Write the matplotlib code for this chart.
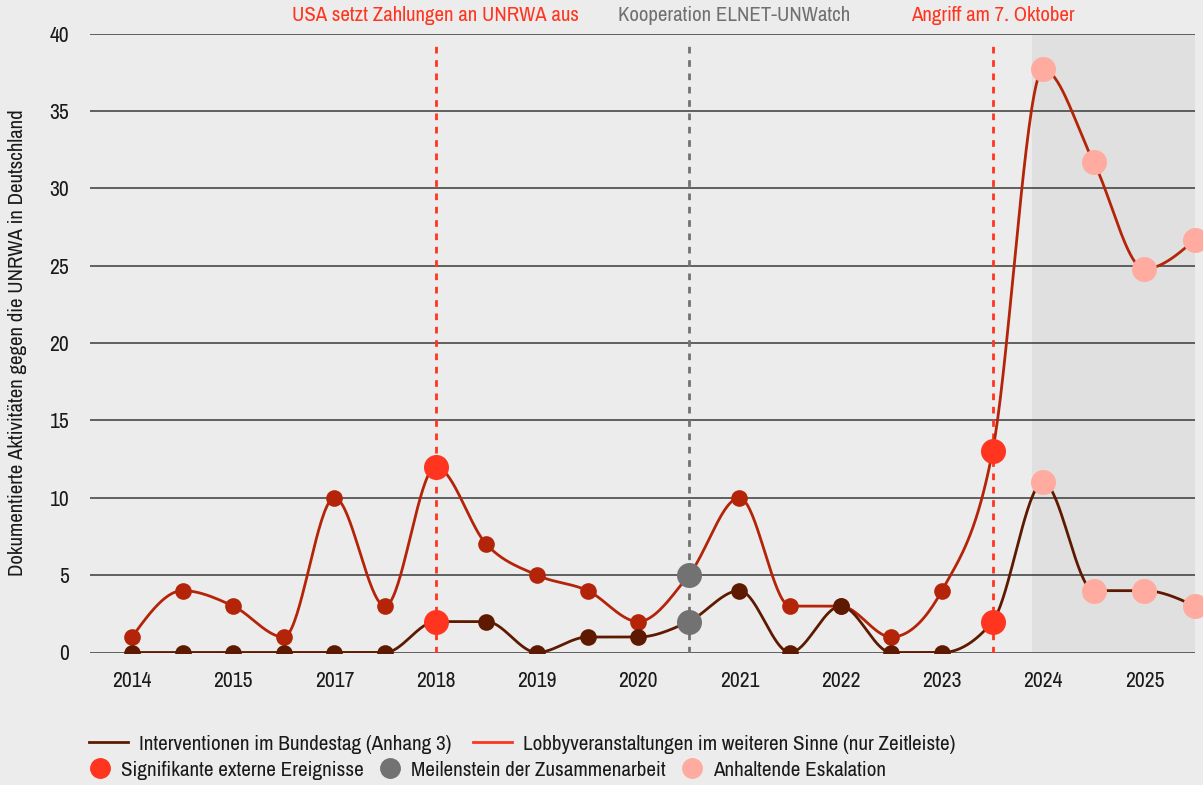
import numpy as np
import matplotlib
matplotlib.use("Agg")
import matplotlib.pyplot as plt
from matplotlib.lines import Line2D

plt.rcParams['font.family'] = ['Archivo Narrow', 'DejaVu Sans']

# ---------------- data ----------------
tick_labels = ["2014", "2015", "2017", "2018", "2019", "2020", "2021", "2022", "2023", "2024", "2025"]
bundestag = [0, 0, 0, 0, 0, 0, 2, 2, 0, 1, 1, 2, 4, 0, 3, 0, 0, 2, 11, 4, 4, 3]
lobby = [1, 4, 3, 1, 10, 3, 12, 7, 5, 4, 2, 5, 10, 3, 3, 1, 4, 13, 37.7, 31.7, 24.8, 26.7]
significant_idx = [6, 17]
milestone_idx = [11]
escalation_idx = [18, 19, 20, 21]
events = [(6, "USA setzt Zahlungen an UNRWA aus", "red"),
          (11, "Kooperation ELNET-UNWatch", "gray"),
          (17, "Angriff am 7. Oktober", "red")]
shade_start = 17.77
legend_labels = ["Interventionen im Bundestag (Anhang 3)",
                 "Lobbyveranstaltungen im weiteren Sinne (nur Zeitleiste)",
                 "Signifikante externe Ereignisse",
                 "Meilenstein der Zusammenarbeit",
                 "Anhaltende Eskalation"]

# ---------------- colours ----------------
BG = "#ececec"
SHADE = "#dfe0df"
BROWN = "#5e1a00"
RED = "#b42409"
BRIGHT = "#ff3520"
GRAY = "#727272"
PINK = "#ffaba0"


def monotone_x(x, y, n=40):
    x = np.asarray(x, float)
    y = np.asarray(y, float)
    h = np.diff(x)
    s = np.diff(y) / h
    m = np.zeros(len(x))
    sg = lambda v: -1.0 if v < 0 else 1.0
    for i in range(1, len(x) - 1):
        p = (s[i - 1] * h[i] + s[i] * h[i - 1]) / (h[i - 1] + h[i])
        m[i] = (sg(s[i - 1]) + sg(s[i])) * min(abs(s[i - 1]), abs(s[i]), 0.5 * abs(p))
    m[0] = (3 * s[0] - m[1]) / 2
    m[-1] = (3 * s[-1] - m[-2]) / 2
    xs, ys = [], []
    for i in range(len(x) - 1):
        t = np.linspace(0, 1, n)
        h00 = 2 * t**3 - 3 * t**2 + 1
        h10 = t**3 - 2 * t**2 + t
        h01 = -2 * t**3 + 3 * t**2
        h11 = t**3 - t**2
        yy = h00 * y[i] + h10 * h[i] * m[i] + h01 * y[i + 1] + h11 * h[i] * m[i + 1]
        xs.append(x[i] + t * h[i])
        ys.append(yy)
    return np.concatenate(xs), np.concatenate(ys)


fig = plt.figure(figsize=(12.03, 7.85), dpi=100, facecolor=BG)
ax = fig.add_axes([90 / 1203, 1 - 652.5 / 785, (1195 - 90) / 1203, (652.5 - 33.8) / 785])
ax.set_facecolor(BG)

n = len(lobby)
xi = np.arange(n)
ax.set_xlim(-0.83, n - 1)
ax.set_ylim(0, 40)

ax.axvspan(shade_start, n - 1, color=SHADE, zorder=0, lw=0)

ax.set_yticks(np.arange(0, 41, 5))
ax.yaxis.grid(True, color="#3a3a3a", lw=1.1, zorder=1)
ax.set_xticks(xi[::2])
ax.set_xticklabels(tick_labels)
ax.tick_params(axis="both", length=0, labelsize=15.5, colors="#1a1a1a")
ax.tick_params(axis="y", pad=15)
ax.tick_params(axis="x", pad=13)
for sp in ax.spines.values():
    sp.set_visible(False)

ax.set_ylabel("Dokumentierte Aktivitäten gegen die UNRWA in Deutschland", fontsize=15,
              color="#1a1a1a", labelpad=16)

for idx, label, kind in events:
    c = BRIGHT if kind == "red" else GRAY
    ax.axvline(idx, ymin=0, ymax=0.99, color=c, lw=2, dashes=(2.4, 2.4), zorder=2)
    tx = idx if kind == "red" else idx + 0.9
    ax.text(tx, 40.6, label, ha="center", va="bottom", fontsize=15,
            color=c if kind == "red" else "#707070")

xs, ys = monotone_x(xi, lobby)
ax.plot(xs, ys, color=RED, lw=2, zorder=3, solid_capstyle="round")
xs, ys = monotone_x(xi, bundestag)
ax.plot(xs, ys, color=BROWN, lw=2, zorder=4, solid_capstyle="round")

normal = [i for i in range(n) if i not in significant_idx + milestone_idx + escalation_idx]
ax.plot(xi[normal], np.array(lobby)[normal], "o", ms=12, color=RED, mew=0, zorder=5)
ax.plot(xi[normal], np.array(bundestag)[normal], "o", ms=12, color=BROWN, mew=0, zorder=5)

for group, col in [(significant_idx, BRIGHT), (milestone_idx, GRAY), (escalation_idx, PINK)]:
    gx = xi[group]
    ax.plot(gx, np.array(lobby)[group], "o", ms=18, color=col, mew=0, zorder=6, clip_on=False)
    ax.plot(gx, np.array(bundestag)[group], "o", ms=18, color=col, mew=0, zorder=6, clip_on=False)

# legends
h1 = [Line2D([], [], color=BROWN, lw=2), Line2D([], [], color=BRIGHT, lw=2)]
leg1 = fig.legend(h1, legend_labels[:2], loc="center left", bbox_to_anchor=(89 / 1203, 1 - 744 / 785),
                  ncol=2, frameon=False, fontsize=15.2, handlelength=1.85, handletextpad=0.53,
                  columnspacing=1.0, borderpad=0, borderaxespad=0)
h2 = [Line2D([], [], color=c, marker="o", ms=14, lw=0) for c in (BRIGHT, GRAY, PINK)]
leg2 = fig.legend(h2, legend_labels[2:], loc="center left", bbox_to_anchor=(89 / 1203, 1 - 770 / 785),
                  ncol=3, frameon=False, fontsize=15.2, handlelength=1.0, handletextpad=0.5,
                  columnspacing=0.75, borderpad=0, borderaxespad=0)
for lg in (leg1, leg2):
    for t in lg.get_texts():
        t.set_color("#1a1a1a")

fig.savefig("out.png", dpi=100, facecolor=BG)
